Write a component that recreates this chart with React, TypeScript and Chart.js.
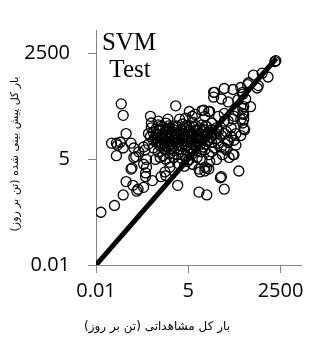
import React, { useEffect, useRef } from "react";
import { Chart, registerables } from "chart.js";

Chart.register(...registerables);

// Observed total load (t/day) – x axis
const observed = [
  0.0139, 0.0347, 0.0625, 0.076, 0.113, 0.12, 0.156, 0.247, 0.282, 0.446,
  0.301, 0.0548, 0.0625, 0.076, 0.0285, 0.0395, 0.0395, 0.0514, 0.0625, 0.106,
  0.128, 0.146, 0.178, 0.391, 0.418, 2.15, 2.45, 1.04, 10.3, 17.4,
  11.0, 17.4, 43.6, 56.6, 78.6, 151, 224, 12.6, 7.95, 27.6,
  56.6, 102, 197, 404, 560, 728, 1080, 1820, 273, 210,
  197, 210, 73.6, 56.6, 109,
  0.0423, 0.247, 0.343, 0.418, 0.579, 0.753, 0.128, 0.301, 0.543, 0.753,
  0.106, 0.247, 0.282, 0.17, 0.27,
  14.3, 21.2, 1.27, 2.79, 4.13, 6.53, 0.66, 5.37,
  10.3, 15.3, 0.8, 1.11, 12.6, 21.2, 6.53, 3.87, 1.45,
  210, 109, 73.6, 102, 46.6, 15.3, 19.9, 29.4, 46.6, 64.6, 15.3, 24.2, 56.6, 102, 172,
  1710, 291, 520, 172, 29.4, 27.6, 46.6, 73.6, 142, 197, 239, 197, 142, 210, 109,
  56.6, 38.3, 19.9, 15.3, 197, 73.6, 24.2, 332,
  89.6, 124, 56.6, 38.3, 124, 172, 19.9, 33.6, 50,
  0.66, 1.11, 1.76, 3.4, 6.53, 12.6, 24.2, 5.37,
  0.579, 0.916, 1.45, 2.45, 4.13, 6.97, 11.0, 17.4, 33.6,
  0.476, 0.753, 1.27, 2.01, 3.19, 5.03, 8.49, 13.4, 22.6, 38.3, 64.6,
  0.391, 0.66, 1.04, 1.65, 2.62, 4.13, 6.53, 10.3, 16.3, 27.6, 46.6, 89.6,
  0.476, 0.8, 1.27, 2.01, 3.19, 5.03, 7.95, 12.6, 19.9, 33.6,
  0.343, 0.579, 0.98, 1.55, 2.45, 3.87, 6.12, 9.67, 15.3, 24.2,
  0.476, 0.753, 1.27, 2.15, 3.4, 5.37, 8.49, 13.4,
  0.66, 1.11, 1.88, 2.98, 4.71, 7.45, 11.8,
  0.916, 1.45, 2.45, 4.13, 6.53,
  1.11, 1.88, 3.19, 5.37, 9.06,
  1.45, 2.45, 4.71,
  0.8, 1.36, 2.3, 4.4, 8.5, 16.3,
  0.7, 1.19, 1.88, 3.19, 5.37, 9.06, 14.3, 24.2,
  0.579, 0.916, 1.55, 2.45, 3.87, 6.12, 9.67, 17.4, 31.6,
  0.543, 0.86, 1.36, 2.15, 3.4, 5.37, 8.49, 13.4, 22.6,
  0.66, 1.04, 1.65, 2.62, 4.13, 6.53, 10.3, 17.4,
  0.86, 1.45, 2.62, 4.4, 6.97, 11.0,
  0.98, 1.65, 2.79, 6.12,
];

// Predicted total load (t/day) – y axis
const predicted = [
  0.222, 0.33, 0.614, 1.35, 2.98, 1.08, 0.769, 0.963, 2.24, 1.43,
  3.15, 130, 66.2, 22.7, 12.9, 6.2, 12.9, 13.6, 9.72, 12.9,
  9.72, 5.86, 7.76, 62.5, 42.2, 116, 1.08, 2.38, 0.727, 0.614,
  2.38, 2.98, 1.69, 0.861, 5.54, 2.51, 28.4, 87.7, 70.0, 256,
  321, 303, 256, 706, 380, 791, 631, 1650, 402, 110,
  74.1, 52.8, 13.6, 9.72, 6.56,
  11.5, 10.3, 22.7, 31.8, 20.2, 12.9, 5.54, 4.95, 4.95, 5.54,
  2.81, 3.73, 1.8, 0.86, 8.69,
  90, 82.9, 52.8, 52.8, 55.9, 62.5, 47.2, 82.9,
  2.81, 2.51, 1.8, 1.9, 4.95, 4.42, 3.73, 3.33, 3.15,
  30, 15.3, 15.3, 6.56, 1.8, 3.15, 2.81, 9.72, 10.3, 8.69, 8.69, 7.76, 47.2, 52.8, 52.8,
  1560, 450, 330, 340, 256, 193, 173, 146, 165, 230, 173, 99, 82.9, 70, 62.5,
  74.1, 62.5, 82.9, 62.5, 42.2, 47.2, 42.2, 110,
  31.8, 22.7, 22.7, 12.9, 11.5, 20.2, 6.56, 4.95, 6.56,
  37.6, 42, 35.6, 39.8, 44.6, 37.6, 42, 35.6,
  30, 33.7, 30, 33.7, 30, 33.7, 30, 33.7, 31.8,
  24, 26.8, 25.4, 24, 26.8, 24, 26.8, 25.4, 24, 26.8, 25.4,
  19.1, 21.4, 20.2, 19.1, 21.4, 19.1, 21.4, 20.2, 19.1, 21.4, 20.2, 19.1,
  15.3, 17.1, 16.1, 15.3, 17.1, 15.3, 17.1, 16.1, 15.3, 17.1,
  12.2, 13.6, 12.9, 12.2, 13.6, 12.2, 13.6, 12.9, 12.2, 13.6,
  9.72, 10.9, 10.3, 9.72, 10.9, 9.72, 10.9, 10.3,
  7.76, 8.69, 8.2, 7.76, 8.69, 8.2, 7.76,
  6.2, 6.9, 6.56, 6.2, 6.9,
  4.95, 5.54, 5.24, 4.95, 5.54,
  4.18, 3.95, 4.42,
  35.6, 35.6, 35.6, 35.6, 35.6, 35.6,
  28.4, 28.4, 28.4, 28.4, 28.4, 28.4, 28.4, 28.4,
  22.7, 22.7, 22.7, 22.7, 22.7, 22.7, 22.7, 22.7, 22.7,
  18.1, 18.1, 18.1, 18.1, 18.1, 18.1, 18.1, 18.1, 18.1,
  14.4, 14.4, 14.4, 14.4, 14.4, 14.4, 14.4, 14.4,
  11.5, 11.5, 11.5, 11.5, 11.5, 11.5,
  9.2, 9.2, 9.2, 9.2,
];

// 1:1 line end points
const lineValues = [0.01, 1900];

const tickValues = [0.01, 5, 2500];
const tickLabels = ["0.01", "5", "2500"];
const axisMin = 0.01;
const axisMax = 10000;

const xTitle = "بار کل مشاهداتی (تن بر روز)";
const yTitle = "بار کل پیش بینی شده (تن بر روز)";
const annotationLines = ["SVM", "Test"];

const textPlugin = {
  id: "customTexts",
  afterDraw(chart: any) {
    const ctx = chart.ctx as CanvasRenderingContext2D;
    ctx.save();
    ctx.fillStyle = "#000";
    ctx.textAlign = "center";
    ctx.textBaseline = "alphabetic";
    ctx.font = '25px "Liberation Serif"';
    ctx.fillText(annotationLines[0], 129, 50);
    ctx.fillText(annotationLines[1], 130, 77);

    ctx.font = '12px "DejaVu Sans"';
    (ctx as any).direction = "rtl";
    ctx.textBaseline = "middle";
    ctx.fillText(xTitle, 157, 327);

    ctx.font = '11px "DejaVu Sans"';
    ctx.translate(15, 154);
    ctx.rotate(-Math.PI / 2);
    ctx.fillText(yTitle, 0, 0);
    ctx.restore();
  },
};

function labelFor(v: number) {
  const i = tickValues.findIndex((t) => Math.abs(t - v) / t < 1e-6);
  return i >= 0 ? tickLabels[i] : "";
}

export default function App() {
  const ref = useRef<HTMLCanvasElement>(null);

  useEffect(() => {
    document.body.style.margin = "0";
    const canvas = ref.current!;
    const points = observed.map((x, i) => ({ x, y: predicted[i] }));
    const grey = "#868686";
    const chart = new Chart(canvas, {
      type: "scatter",
      data: {
        datasets: [
          {
            type: "line",
            data: lineValues.map((v) => ({ x: v, y: v })),
            borderColor: "#000",
            borderWidth: 5,
            pointRadius: 0,
            fill: false,
          } as any,
          {
            data: points,
            pointRadius: 5,
            pointBorderWidth: 1.3,
            pointBorderColor: "#000",
            pointBackgroundColor: "rgba(0,0,0,0)",
            showLine: false,
          },
        ],
      },
      options: {
        animation: false,
        responsive: false,
        events: [],
        layout: { padding: { top: 20, right: 3, left: 0, bottom: 0 } },
        plugins: { legend: { display: false }, tooltip: { enabled: false } },
        scales: {
          x: {
            type: "logarithmic",
            min: axisMin,
            max: axisMax,
            afterBuildTicks: (s: any) => {
              s.ticks = tickValues.map((v) => ({ value: v }));
            },
            afterFit: (s: any) => {
              s.height = 76;
            },
            ticks: {
              callback: (v: any) => labelFor(Number(v)),
              font: { family: "Open Sans", size: 20 },
              color: "#000",
              padding: 6,
              maxRotation: 0,
              autoSkip: false,
            },
            grid: { display: true, drawOnChartArea: false, tickLength: 8, color: grey },
            border: { display: true, color: grey, width: 1 },
          },
          y: {
            type: "logarithmic",
            min: axisMin,
            max: axisMax,
            afterBuildTicks: (s: any) => {
              s.ticks = tickValues.map((v) => ({ value: v }));
            },
            afterFit: (s: any) => {
              s.width = 96;
            },
            ticks: {
              callback: (v: any) => labelFor(Number(v)),
              font: { family: "Open Sans", size: 20 },
              color: "#000",
              padding: 18,
              autoSkip: false,
            },
            grid: { display: true, drawOnChartArea: false, tickLength: 8, color: grey },
            border: { display: true, color: grey, width: 1 },
          },
        },
      },
      plugins: [textPlugin],
    });
    return () => chart.destroy();
  }, []);

  return <canvas ref={ref} width={310} height={341} style={{ display: "block" }} />;
}
